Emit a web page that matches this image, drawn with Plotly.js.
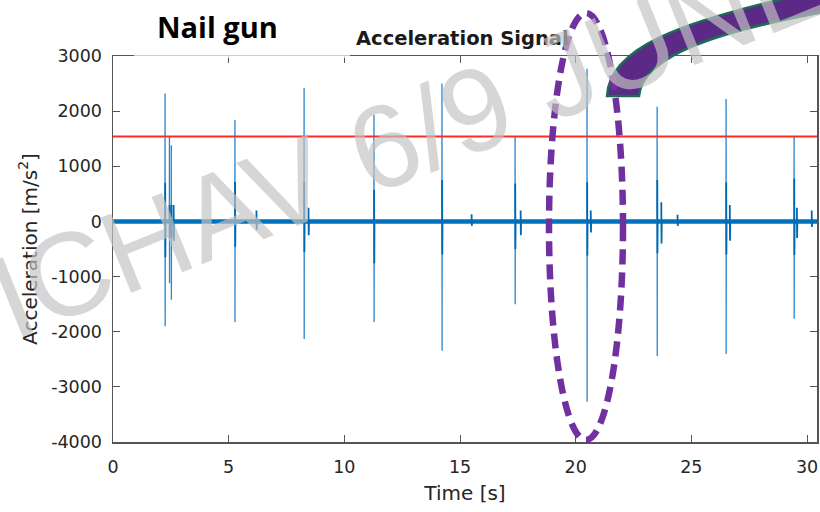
<!DOCTYPE html>
<html>
<head>
<meta charset="utf-8">
<script src="https://cdn.plot.ly/plotly-3.0.1.min.js"></script>
<style>html,body{margin:0;padding:0;background:#fff;}#chart{width:820px;height:512px;}</style>
</head>
<body>
<div id="chart"></div>
<script>
// ---- data ----
const eventTimes     = [2.25, 2.44, 2.52, 5.27, 8.26, 11.28, 14.22, 17.38, 20.49, 23.52, 26.50, 29.44];
const peakValues     = [2320, 1530, 1380, 1840, 2420, 1930, 2500, 1530, 2770, 2080, 2220, 1530];
const troughValues   = [-1900, -1120, -1420, -1830, -2130, -1825, -2345, -1500, -3270, -2440, -2405, -1765];
const secondaryUp    = [700, 300, 300, 715, 715, 570, 750, 690, 710, 750, 710, 780];
const secondaryDown  = [-650, -300, -300, -460, -555, -760, -600, -500, -620, -575, -600, -610];
const bumpTimes      = [2.62, 6.20, 8.45, 15.50, 17.62, 20.65, 23.70, 24.40, 26.66, 29.56, 30.20];
const bumpUp         = [300, 200, 250, 130, 200, 200, 350, 120, 300, 250, 200];
const bumpDown       = [-350, -150, -250, -80, -250, -200, -400, -80, -350, -300, -100];
const threshold      = 1540;
const timeRange      = [0, 30.43];
const accelRange     = [-4000, 3000];
const xTickVals      = [0, 5, 10, 15, 20, 25, 30];
const xTickText      = ['0', '5', '10', '15', '20', '25', '30'];
const yTickVals      = [-4000, -3000, -2000, -1000, 0, 1000, 2000, 3000];
const yTickText      = ['-4000', '-3000', '-2000', '-1000', '0', '1000', '2000', '3000'];

// ---- build traces ----
const sx = [], sy = [];
eventTimes.forEach((t, i) => {
  sx.push(t - 0.004, t, t + 0.004, t + 0.008, null);
  sy.push(0, peakValues[i], troughValues[i], 0, null);
});
const dx = [], dy = [];
eventTimes.forEach((t, i) => {
  dx.push(t + 0.006, t + 0.014, t + 0.022, null);
  dy.push(secondaryUp[i], secondaryDown[i], 0, null);
});
bumpTimes.forEach((t, i) => {
  dx.push(t, t + 0.01, t + 0.02, null);
  dy.push(bumpUp[i], bumpDown[i], 0, null);
});

const BLUE = '#0072BD';
const traces = [
  {x: timeRange, y: [0, 0], mode: 'lines', line: {color: BLUE, width: 4.5}, hoverinfo: 'skip', showlegend: false},
  {x: sx, y: sy, mode: 'lines', line: {color: '#2a86cf', width: 1.3}, connectgaps: false, showlegend: false},
  {x: dx, y: dy, mode: 'lines', line: {color: '#0068b0', width: 1.8}, connectgaps: false, showlegend: false},
  {x: timeRange, y: [threshold, threshold], mode: 'lines', line: {color: '#ff2b2b', width: 2}, showlegend: false}
];

// pixel -> paper helpers for decorations
const L = 113, R = 817, T = 56, B = 442;
const px = X => (X - L) / (R - L);
const py = Y => (B - Y) / (B - T);

const arrowPath =
  `M ${px(607)},${py(96)} C ${px(609)},${py(48)} ${px(680)},${py(22)} ${px(800)},${py(-5)} ` +
  `L ${px(840)},${py(-5)} L ${px(840)},${py(9)} ` +
  `C ${px(720)},${py(30)} ${px(642)},${py(55)} ${px(639)},${py(96)} Z`;

const axisFont = {family: 'DejaVu Sans', size: 17.5, color: '#262626'};

const layout = {
  width: 820, height: 512,
  margin: {l: L, r: 820 - R, t: T, b: 512 - B},
  paper_bgcolor: '#ffffff', plot_bgcolor: '#ffffff',
  showlegend: false,
  xaxis: {
    range: timeRange, tickvals: xTickVals, ticktext: xTickText,
    ticks: 'inside', ticklen: 7, tickwidth: 1, tickcolor: '#555',
    showline: true, linecolor: '#555', linewidth: 1.5, mirror: 'ticks',
    showgrid: false, zeroline: false, tickfont: axisFont, ticklabelstandoff: 8,
    title: {text: 'Time [s]', font: {family: 'DejaVu Sans', size: 20, color: '#262626'}, standoff: 10}
  },
  yaxis: {
    range: accelRange, tickvals: yTickVals, ticktext: yTickText,
    ticks: 'inside', ticklen: 7, tickwidth: 1, tickcolor: '#555',
    showline: true, linecolor: '#555', linewidth: 1.5, mirror: 'ticks',
    showgrid: false, zeroline: false, tickfont: axisFont, ticklabelstandoff: 6,
    title: {text: 'Acceleration [m/s<sup>2</sup>]', font: {family: 'DejaVu Sans', size: 20, color: '#262626'}, standoff: 8}
  },
  shapes: [
    {type: 'rect', xref: 'paper', yref: 'paper', x0: px(134), x1: px(350), y0: py(58), y1: py(40),
     fillcolor: 'rgba(255,255,255,0.7)', line: {width: 0}, layer: 'above'},
    {type: 'path', xref: 'paper', yref: 'paper', path: arrowPath,
     fillcolor: '#5b2a86', line: {color: '#1e6b55', width: 2.5}, layer: 'above'},
    {type: 'circle', xref: 'paper', yref: 'paper', x0: px(549), x1: px(623), y0: py(440), y1: py(13),
     line: {color: '#7030a0', width: 6.5, dash: '15px,8px'}, fillcolor: 'rgba(0,0,0,0)', layer: 'above'}
  ],
  annotations: [
    {text: '<b>Nail gun</b>', xref: 'paper', yref: 'paper', x: px(217), y: py(27),
     xanchor: 'center', yanchor: 'middle', showarrow: false,
     font: {family: 'Open Sans', size: 29, color: '#000'}},
    {text: '<b>Acceleration Signal</b>', xref: 'paper', yref: 'paper', x: px(354), y: py(38),
     xanchor: 'left', yanchor: 'middle', showarrow: false,
     font: {family: 'DejaVu Sans', size: 19.5, color: '#1a1a1a'}},
    {text: 'ICHAV 6/9 JUNE', xref: 'paper', yref: 'paper', x: px(410), y: py(136),
     xanchor: 'center', yanchor: 'middle', showarrow: false, textangle: -22,
     font: {family: 'Liberation Sans', size: 118, color: 'rgba(195,195,195,0.68)'}}
  ]
};

Plotly.newPlot('chart', traces, layout, {staticPlot: true, displayModeBar: false});
</script>
</body>
</html>
